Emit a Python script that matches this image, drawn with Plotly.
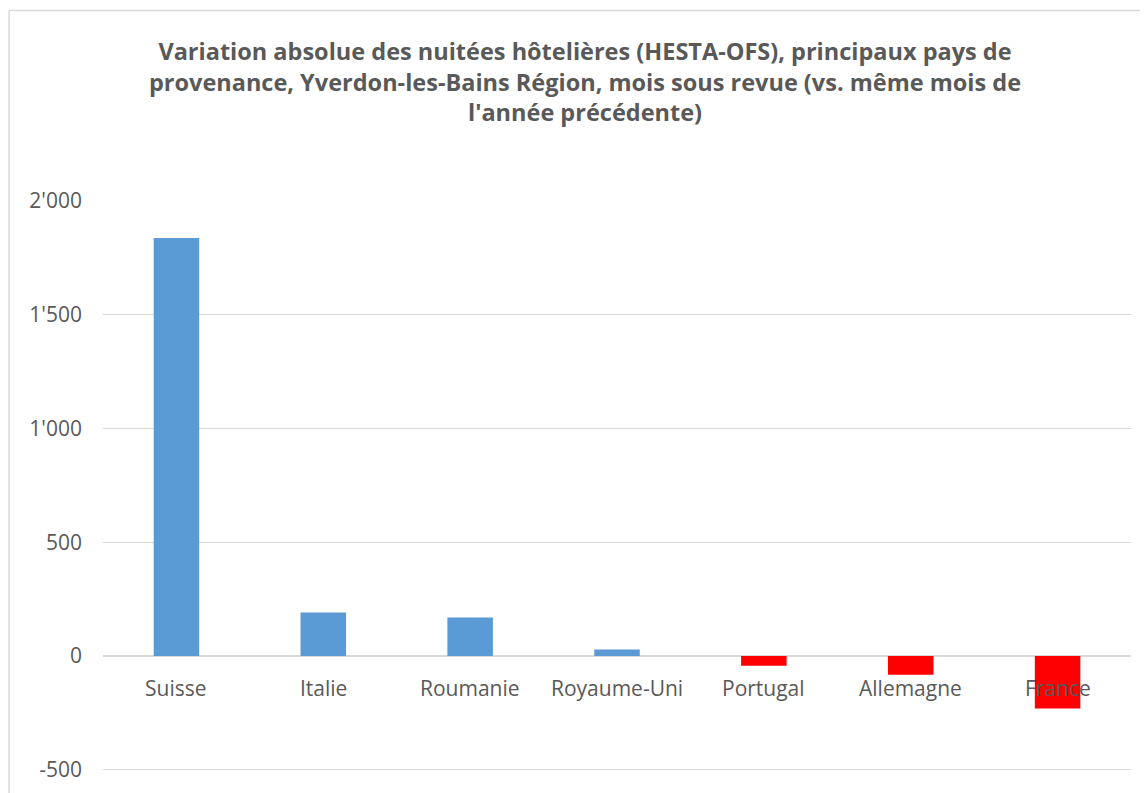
import plotly.graph_objects as go

categories = ["Suisse", "Italie", "Roumanie", "Royaume-Uni", "Portugal", "Allemagne", "France"]
values = [1837, 192, 170, 29, -42, -82, -230]
tick_vals = [-500, 0, 500, 1000, 1500, 2000]
tick_text = ["-500", "0", "500", "1'000", "1'500", "2'000"]
title_text = ("Variation absolue des nuitées hôtelières (HESTA-OFS), principaux pays de<br>"
              "provenance, Yverdon-les-Bains Région, mois sous revue (vs. même mois de<br>"
              "l'année précédente)")

POS_COLOR = "#5B9BD5"
NEG_COLOR = "#FF0000"
TEXT_COLOR = "#595959"
GRID_COLOR = "#D9D9D9"

Y_MIN, Y_MAX = -505, 2000

# page has an 8px body margin; figure coords = page coords - 8
OFF = 8
W, H = 1140, 785
PX_PER_UNIT = (770 - 201) / 2500
ML, MT = 102.5 - OFF, 201 - OFF
PLOT_RIGHT = 1131.5 - OFF
PLOT_BOTTOM = 770 + (-500 - Y_MIN) * PX_PER_UNIT - OFF
MR, MB = W - PLOT_RIGHT, H - PLOT_BOTTOM

colors = [POS_COLOR if v >= 0 else NEG_COLOR for v in values]

fig = go.Figure()
fig.add_trace(go.Bar(
    x=categories, y=values,
    marker=dict(color=colors, line=dict(width=0)),
    width=0.31,
    hoverinfo="x+y",
))

for c in categories:
    fig.add_annotation(
        x=c, y=0, xref="x", yref="y",
        text=c, showarrow=False,
        yanchor="middle", yshift=-32,
        font=dict(family="Open Sans", size=21, color=TEXT_COLOR),
    )

pw = W - ML - MR
ph = H - MT - MB
def px_x(p):
    return (p - OFF - ML) / pw
def px_y(p):
    return (H - MB - (p - OFF)) / ph

# chart outer border (left and top visible)
fig.add_shape(type="line", xref="paper", yref="paper",
              x0=px_x(8.5), x1=px_x(8.5), y0=px_y(10.5), y1=px_y(800),
              line=dict(color="#D9D9D9", width=1.5))
fig.add_shape(type="line", xref="paper", yref="paper",
              x0=px_x(8.5), x1=px_x(1160), y0=px_y(10.5), y1=px_y(10.5),
              line=dict(color="#D9D9D9", width=1.5))

fig.update_layout(
    width=W, height=H,
    margin=dict(l=ML, r=MR, t=MT, b=MB, autoexpand=False),
    paper_bgcolor="white", plot_bgcolor="white",
    showlegend=False,
    title=dict(
        text=title_text,
        x=(585 - OFF) / W, xanchor="center",
        y=1 - 52 / H, yanchor="top",
        font=dict(family="Open Sans", size=23.5, color=TEXT_COLOR, weight="bold"),
    ),
    xaxis=dict(showticklabels=False, showgrid=False, zeroline=False, showline=False,
               ticks=""),
    yaxis=dict(range=[Y_MIN, Y_MAX], tickvals=tick_vals, ticktext=tick_text,
               showgrid=True, gridcolor=GRID_COLOR, gridwidth=1,
               zeroline=True, zerolinecolor=GRID_COLOR, zerolinewidth=1.5,
               showline=False, ticks="", ticklabelstandoff=20,
               tickfont=dict(family="Open Sans", size=21, color=TEXT_COLOR)),
    bargap=0.69,
)

fig.write_html("out.html")
